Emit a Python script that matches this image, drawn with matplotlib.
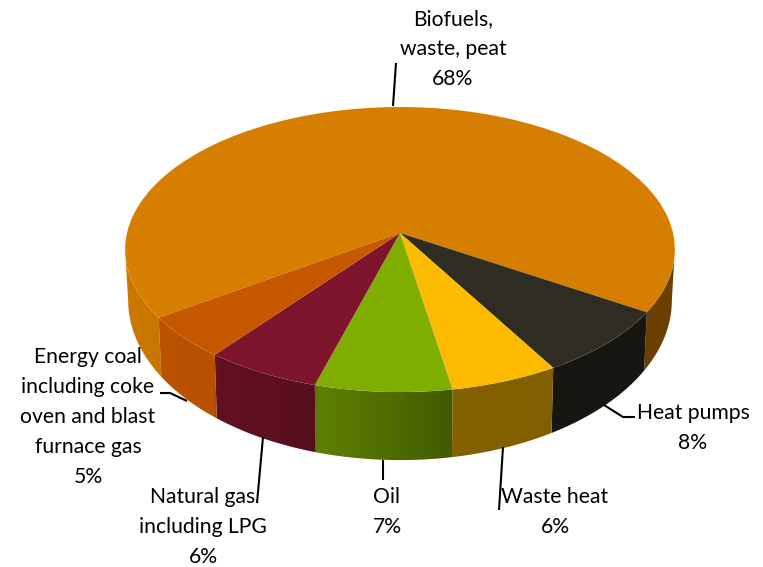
import numpy as np
import matplotlib
matplotlib.use("Agg")
import matplotlib.pyplot as plt
from matplotlib.patches import Polygon
from matplotlib.transforms import Transform
from matplotlib.colors import to_rgb

# data (clockwise, starting at the Biofuels slice)
names = ["Biofuels,\nwaste, peat", "Heat pumps", "Waste heat", "Oil",
         "Natural gas\nincluding LPG",
         "Energy coal\nincluding coke\noven and blast\nfurnace gas"]
shares = [68.4, 7.7, 5.7, 7.2, 6.1, 4.9]
colors = ["#D67E00", "#2F2C22", "#FDBB00", "#7FAD00", "#7E152C", "#C65800"]
start_angle = -145.7

label_pos = [(453, 49), (693, 428), (555, 512), (387, 512), (203, 527), (88, 417)]
leaders = [[(396, 63), (393, 106)],
           [(604, 405), (623, 417), (635, 417)],
           [(503, 447), (499, 510)],
           [(383, 460), (383, 480)],
           [(263, 437), (257, 503)],
           [(160, 393), (170, 393), (187, 401)]]

CX, AY, K = 400.0, 233.0, 0.116


def project(x, y, b=273.0, a=140.6, y0=0.0):
    w = 1 + K * y
    return CX + b * x / w, AY - (y0 + a * y / w)


class TopPlane(Transform):
    input_dims = output_dims = 2
    is_separable = False
    has_inverse = False

    def transform_non_affine(self, values):
        v = np.asarray(values, float)
        return np.column_stack(project(v[:, 0], v[:, 1]))


fig = plt.figure(figsize=(7.63, 5.67), dpi=100)
ax = fig.add_axes([0, 0, 1, 1])

wedges, _ = ax.pie(shares, colors=colors, startangle=start_angle,
                   counterclock=False, radius=1.0,
                   wedgeprops=dict(linewidth=0, zorder=3))
top = TopPlane() + ax.transData
for w in wedges:
    w.set_transform(top)

# side wall: a horizontal shading ramp clipped to each visible arc of a slice
edges = start_angle - np.cumsum([0] + shares) * 3.6
ramp_x = np.linspace(120, 680, 561)
ramp_s = np.interp(ramp_x, [125, 213, 218, 316, 318, 455, 675],
                   [0.95, 0.93, 0.78, 0.68, 0.74, 0.52, 0.50])
for i, col in enumerate(colors):
    th = np.radians(np.arange(edges[i], edges[i + 1], -0.25))
    th = np.append(th, np.radians(edges[i + 1]))
    front = np.sin(th) < -K
    runs = np.split(np.arange(len(th)), np.flatnonzero(np.diff(front)) + 1)
    base = np.array(to_rgb(col))
    img = (ramp_s[:, None] * base)[None, :, :]
    for run in runs:
        if not front[run[0]]:
            continue
        xu, yu = np.cos(th[run]), np.sin(th[run])
        tx, ty = project(xu, yu)
        bx, by = project(xu, yu, b=270.0, a=157.6, y0=-48.8)
        poly = Polygon(np.column_stack([np.r_[tx, bx[::-1]], np.r_[ty, by[::-1]]]),
                       closed=True, transform=ax.transData, facecolor="none",
                       edgecolor="none")
        ax.add_patch(poly)
        im = ax.imshow(img, extent=(120, 680, 480, 200), aspect="auto",
                       interpolation="bilinear", zorder=2)
        im.set_clip_path(poly)

for seg in leaders:
    xs, ys = zip(*seg)
    ax.plot(xs, ys, color="black", lw=1.5, zorder=4, solid_capstyle="butt")

for name, share, (lx, ly) in zip(names, shares, label_pos):
    ax.text(lx, ly, f"{name}\n{round(share)}%", ha="center", va="center",
            multialignment="center", family="Lato", fontsize=15.2,
            linespacing=1.62, color="black", zorder=5)

ax.set_aspect("auto")
ax.set_xlim(0, 763)
ax.set_ylim(567, 0)
ax.set_axis_off()
fig.savefig("out.png", dpi=100)
